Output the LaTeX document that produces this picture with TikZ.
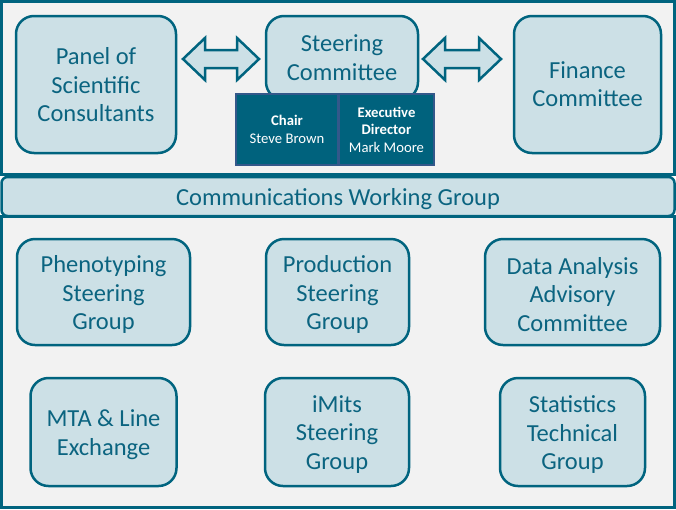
\documentclass[tikz,border=0pt]{standalone}
\usepackage{fontspec}
\setmainfont{Carlito}
\definecolor{teal1}{HTML}{00647F}
\definecolor{light1}{HTML}{CCE0E6}
\definecolor{bg1}{HTML}{F2F2F2}
\definecolor{txt1}{HTML}{0B6480}
\definecolor{dark1}{HTML}{00627D}
\definecolor{darkedge}{HTML}{33588A}
\tikzset{
  panel/.style={draw=teal1, line width=3pt, fill=bg1},
  bigbox/.style={draw=teal1, line width=2.5pt, fill=light1, rounded corners=18pt,
    inner sep=0pt},
  boxtext/.style={text=txt1, align=center, inner sep=0pt, yshift=-2.5pt,
    font=\fontsize{24.5}{28.5}\selectfont},
  darkbox/.style={draw=darkedge, line width=2pt, fill=dark1, text=white,
    align=center, inner sep=0pt, minimum height=71pt, font=\fontsize{14.7}{17.5}\selectfont},
  arrowshape/.style={draw=teal1, line width=2.5pt, fill=light1, line join=miter},
}
\begin{document}
\begin{tikzpicture}[x=1pt,y=-1pt]
\useasboundingbox (0,0) rectangle (676,509);
% panels
\draw[panel] (1.5,1.5) rectangle (674.5,174.5);
\draw[panel] (1.5,216) rectangle (674.5,507.5);
\node[draw=teal1, line width=2.5pt, fill=light1, rounded corners=6pt, minimum width=673pt,
  minimum height=39pt, inner sep=0pt,
  label={[boxtext, yshift=-0.5pt]center:Communications Working Group}]
  (comm) at (338,196.5) {};
% top boxes
\node[bigbox, minimum width=160pt, minimum height=137pt,
  label={[boxtext, yshift=2pt]center:{Panel of\\Scientific\\Consultants}}] (pan) at (96,84.5) {};
\node[bigbox, minimum width=152pt, minimum height=84pt,
  label={[boxtext, yshift=3pt]center:{Steering\\Committee}}] (steer) at (342,58) {};
\node[bigbox, minimum width=147pt, minimum height=137pt,
  label={[boxtext, yshift=3pt]center:{Finance\\Committee}}] (fin) at (587.5,84.5) {};
\node[darkbox, minimum width=102pt] (chair) at (287,129.5)
  {\textbf{Chair}\\Steve Brown};
\node[darkbox, minimum width=95pt] (exec) at (386.5,129.5)
  {\textbf{Executive}\\\textbf{Director}\\Mark Moore};
% double arrows
\draw[arrowshape] (183,59) -- (205,38) -- (205,50) -- (237,50) -- (237,38) -- (259,59)
  -- (237,80) -- (237,68) -- (205,68) -- (205,80) -- cycle;
\draw[arrowshape] (423,59) -- (445,38) -- (445,50) -- (479,50) -- (479,38) -- (501,59)
  -- (479,80) -- (479,68) -- (445,68) -- (445,80) -- cycle;
% bottom boxes
\node[bigbox, minimum width=173pt, minimum height=106pt,
  label={[boxtext]center:{Phenotyping\\Steering\\Group}}] (phen) at (103.5,292) {};
\node[bigbox, minimum width=143pt, minimum height=106pt,
  label={[boxtext]center:{Production\\Steering\\Group}}] (prod) at (337.5,292) {};
\node[bigbox, minimum width=175pt, minimum height=106pt,
  label={[boxtext]center:{Data Analysis\\Advisory\\Committee}}] (data) at (572.5,292) {};
\node[bigbox, minimum width=146pt, minimum height=108pt,
  label={[boxtext]center:{MTA \& Line\\Exchange}}] (mta) at (103.5,432) {};
\node[bigbox, minimum width=144pt, minimum height=108pt,
  label={[boxtext]center:{iMits\\Steering\\Group}}] (imits) at (337,432) {};
\node[bigbox, minimum width=145pt, minimum height=108pt,
  label={[boxtext]center:{Statistics\\Technical\\Group}}] (stat) at (572.5,432) {};
\end{tikzpicture}
\end{document}
